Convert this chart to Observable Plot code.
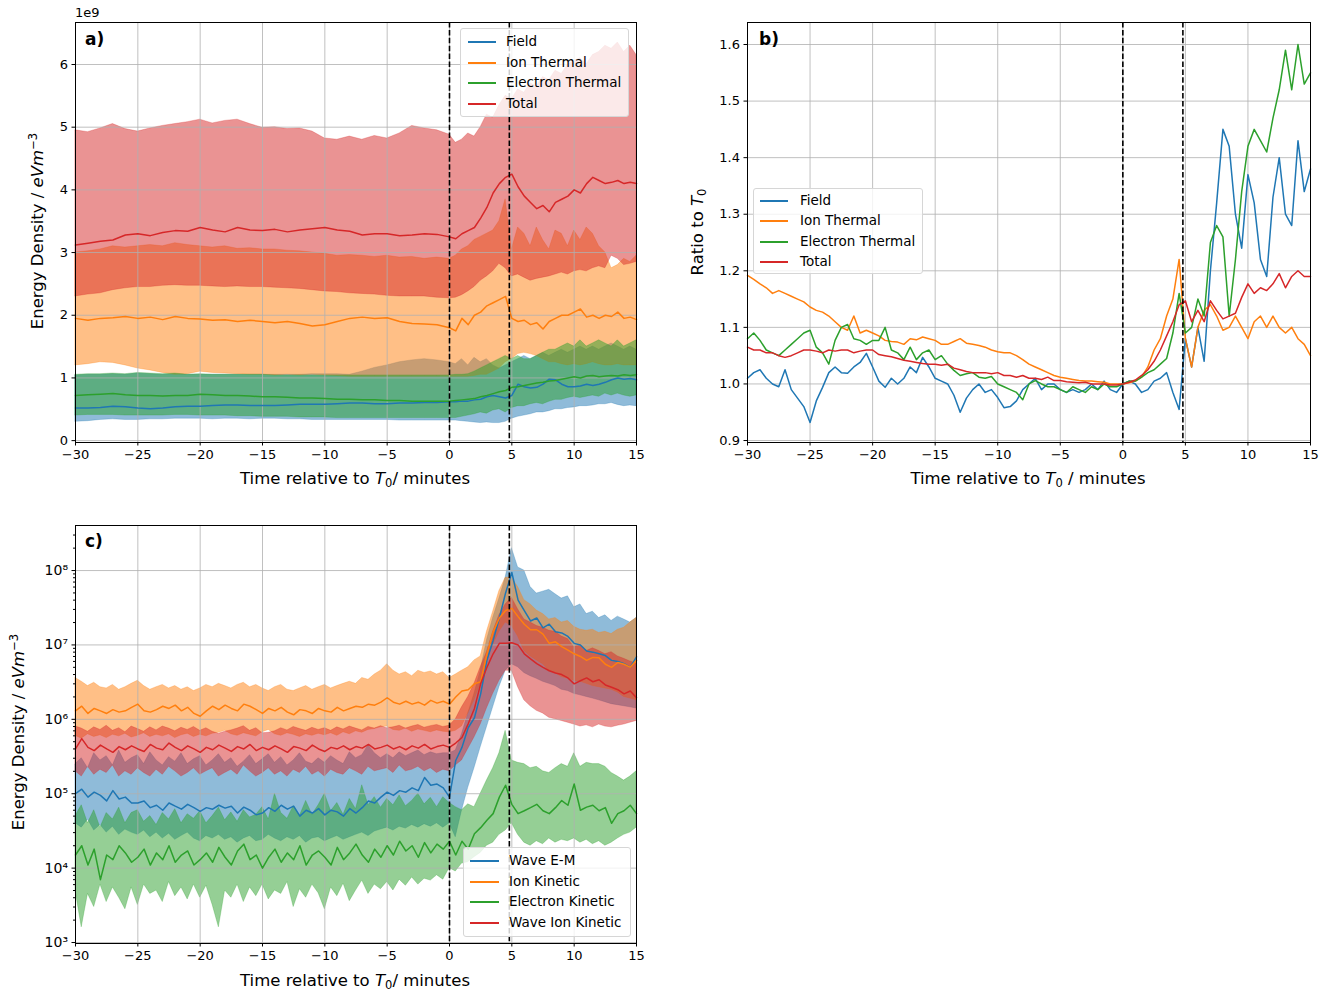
<!DOCTYPE html>
<html><head><meta charset="utf-8">
<script src="https://cdn.jsdelivr.net/npm/d3@7"></script>
<script src="https://cdn.jsdelivr.net/npm/@observablehq/plot@0.6"></script>
<style>
body{margin:0;background:#fff;font-family:"DejaVu Sans",sans-serif;color:#000;}
#wrap{position:relative;width:1327px;height:995px;overflow:hidden;background:#fff;}
#wrap svg{position:absolute;overflow:visible;}
.lbl{position:absolute;font-size:16.5px;white-space:nowrap;transform:translate(-50%,-50%);line-height:1;}
.rot{transform:translate(-50%,-50%) rotate(-90deg);}
.lbl sub{font-size:70%;vertical-align:-0.25em;}
.lbl sup{font-size:70%;vertical-align:0.55em;}
.plab{position:absolute;font-size:17px;font-weight:bold;line-height:1;}
.off{position:absolute;font-size:13px;line-height:1;}
.legend{position:absolute;background:rgba(255,255,255,0.8);border:1px solid #d6d6d6;border-radius:3px;box-sizing:border-box;}
.legend .ln{position:absolute;height:0;border-top:2px solid;}
.legend .tx{position:absolute;font-size:13.5px;line-height:1;transform:translateY(-50%);white-space:nowrap;}
</style>
</head><body><div id="wrap"></div>
<script>
// ---------------- Panel a data (energy density, units of 1e9 eV m^-3) ----------------
const tA = [-30,-29,-28,-27,-26,-25,-24,-23,-22,-21,-20,-19,-18,-17,-16,-15,-14,-13,-12,-11,-10,-9,-8,-7,-6,-5,-4,-3,-2,-1,0,
  0.5,1,1.5,2,2.5,3,3.5,4,4.5,5,5.5,6,6.5,7,7.5,8,8.5,9,9.5,10,10.5,11,11.5,12,12.5,13,13.5,14,14.5,15];
const fieldA = [0.52,0.52,0.53,0.55,0.54,0.52,0.51,0.52,0.54,0.55, 0.55,0.56,0.57,0.57,0.56,0.56,0.56,0.57,0.58,0.58, 0.58,0.59,0.6,0.6,0.59,0.59,0.6,0.6,0.61,0.61, 0.62,
  0.62,0.63,0.63,0.65,0.66,0.7,0.72,0.7,0.68,0.72, 0.9,0.86,0.84,0.85,0.9,0.98,0.97,0.9,0.86,0.86, 0.87,0.9,0.88,0.9,0.93,0.97,1.0,0.98,0.99,0.97];
const fieldLoA = [0.3,0.31,0.33,0.34,0.33,0.33,0.34,0.34,0.35,0.35, 0.35,0.34,0.35,0.35,0.34,0.35,0.35,0.34,0.34,0.33, 0.33,0.33,0.33,0.33,0.33,0.33,0.32,0.32,0.32,0.32, 0.32,
  0.32,0.31,0.3,0.29,0.28,0.29,0.28,0.28,0.3,0.35, 0.38,0.4,0.42,0.45,0.45,0.47,0.5,0.5,0.52,0.53, 0.55,0.55,0.56,0.58,0.58,0.6,0.57,0.55,0.56,0.55];
const fieldHiA = [1.04,1.05,1.05,1.06,1.05,1.07,1.06,1.05,1.06,1.05, 1.05,1.05,1.05,1.05,1.05,1.05,1.05,1.05,1.05,1.06, 1.06,1.06,1.05,1.1,1.16,1.2,1.25,1.28,1.3,1.28, 1.25,
  1.22,1.3,1.2,1.32,1.25,1.3,1.2,1.15,1.2,1.25, 1.3,1.35,1.3,1.35,1.4,1.35,1.4,1.45,1.4,1.45, 1.5,1.45,1.5,1.45,1.5,1.55,1.5,1.45,1.5,1.45];
const ionA = [1.95,1.92,1.95,1.96,1.98,1.95,1.97,1.93,1.98,1.95, 1.94,1.92,1.93,1.9,1.92,1.9,1.88,1.9,1.87,1.83, 1.85,1.9,1.95,1.97,1.95,1.96,1.9,1.87,1.86,1.85, 1.8,
  1.75,1.95,1.85,2.0,2.05,2.15,2.2,2.25,2.3,1.95, 1.9,1.92,1.85,1.88,1.78,1.9,1.95,2.0,2.0,2.05, 2.1,1.97,2.0,1.95,2.0,1.98,2.05,1.95,1.97,1.93];
const ionLoA = [1.2,1.22,1.25,1.24,1.2,1.15,1.12,1.08,1.05,1.06, 1.1,1.08,1.07,1.06,1.05,1.05,1.04,1.05,1.04,1.05, 1.04,1.03,1.02,1.02,1.02,1.02,1.02,1.02,1.02,1.02, 1.02,
  1.02,1.02,1.02,1.03,1.05,1.05,1.1,1.15,1.25,1.3, 1.38,1.4,1.38,1.35,1.3,1.25,1.25,1.22,1.2,1.22, 1.2,1.22,1.25,1.22,1.2,1.2,1.22,1.2,1.2,1.2];
const ionHiA = [3.0,3.02,3.05,3.1,3.08,3.1,3.12,3.1,3.15,3.12, 3.1,3.08,3.1,3.06,3.07,3.05,3.05,3.03,3.02,3.0, 2.98,2.95,2.96,2.95,2.93,2.95,2.92,2.93,2.9,2.92, 2.9,
  2.95,3.05,3.1,3.2,3.25,3.3,3.35,3.5,3.85,3.05, 3.4,3.3,3.1,3.4,3.2,3.05,3.35,3.3,3.1,3.35, 3.2,3.4,3.3,3.1,3.0,2.75,2.8,2.9,2.85,2.95];
const elecA = [0.72,0.73,0.74,0.75,0.73,0.72,0.72,0.71,0.72,0.72, 0.74,0.73,0.72,0.72,0.71,0.7,0.7,0.69,0.68,0.68, 0.67,0.66,0.66,0.65,0.65,0.64,0.64,0.63,0.63,0.63, 0.63,
  0.64,0.65,0.66,0.67,0.7,0.72,0.75,0.78,0.8,0.85, 0.86,0.88,0.9,0.92,0.93,0.95,0.96,0.98,1.0,1.02, 1.0,1.03,1.04,1.02,1.03,1.04,1.03,1.05,1.04,1.05];
const elecLoA = [0.4,0.41,0.41,0.41,0.4,0.4,0.4,0.4,0.41,0.41, 0.4,0.4,0.4,0.39,0.39,0.38,0.38,0.38,0.37,0.37, 0.37,0.36,0.36,0.36,0.36,0.36,0.36,0.36,0.36,0.36, 0.36,
  0.36,0.38,0.4,0.42,0.45,0.43,0.48,0.5,0.45,0.52, 0.55,0.55,0.58,0.6,0.58,0.62,0.65,0.65,0.68,0.7, 0.68,0.7,0.72,0.7,0.75,0.72,0.75,0.72,0.7,0.72];
const elecHiA = [1.05,1.06,1.06,1.07,1.06,1.08,1.07,1.06,1.07,1.05, 1.06,1.05,1.05,1.05,1.05,1.05,1.04,1.04,1.04,1.04, 1.04,1.04,1.04,1.04,1.04,1.04,1.04,1.04,1.04,1.04, 1.04,
  1.05,1.05,1.06,1.1,1.15,1.2,1.25,1.3,1.35,1.3, 1.35,1.3,1.3,1.35,1.4,1.45,1.45,1.5,1.55,1.5, 1.6,1.5,1.55,1.6,1.55,1.5,1.6,1.5,1.55,1.6];
const totalA = [3.12,3.15,3.18,3.2,3.28,3.3,3.27,3.32,3.35,3.34, 3.4,3.36,3.33,3.4,3.36,3.35,3.37,3.33,3.36,3.38, 3.4,3.36,3.34,3.28,3.3,3.3,3.27,3.28,3.3,3.29, 3.25,
  3.22,3.3,3.35,3.4,3.55,3.72,3.95,4.1,4.2,4.25, 4.05,3.9,3.8,3.7,3.75,3.65,3.8,3.85,3.9,4.0, 3.95,4.1,4.2,4.15,4.1,4.12,4.15,4.1,4.12,4.1];
const totalLoA = [2.3,2.33,2.35,2.4,2.43,2.45,2.45,2.47,2.48,2.47, 2.47,2.46,2.45,2.46,2.45,2.45,2.44,2.43,2.42,2.4, 2.38,2.37,2.35,2.34,2.33,2.31,2.3,2.3,2.3,2.28, 2.27,
  2.28,2.32,2.38,2.45,2.55,2.62,2.7,2.82,2.75,2.62, 2.65,2.6,2.55,2.58,2.6,2.62,2.65,2.68,2.65,2.7, 2.72,2.7,2.75,2.78,2.75,2.95,2.9,2.8,2.82,2.85];
const totalHiA = [4.95,4.92,4.98,5.05,4.97,4.93,4.98,5.02,5.05,5.08, 5.12,5.06,5.1,5.12,5.05,4.99,5.0,4.97,4.98,4.93, 4.82,4.8,4.85,4.8,4.86,4.82,4.9,5.02,4.98,4.95, 4.88,
  4.75,4.8,4.9,4.85,5.0,5.2,5.15,5.35,5.5,5.45, 5.6,5.55,5.7,5.65,5.8,5.75,5.9,5.85,6.0,6.05, 6.1,6.0,6.15,6.2,6.3,6.25,6.35,6.2,6.3,6.15];

// ---------------- Shared time grid for panels b and c (minutes) ----------------
const tB = [-30,-29.5,-29,-28.5,-28,-27.5,-27,-26.5,-26,-25.5,
  -25,-24.5,-24,-23.5,-23,-22.5,-22,-21.5,-21,-20.5,
  -20,-19.5,-19,-18.5,-18,-17.5,-17,-16.5,-16,-15.5,
  -15,-14.5,-14,-13.5,-13,-12.5,-12,-11.5,-11,-10.5,
  -10,-9.5,-9,-8.5,-8,-7.5,-7,-6.5,-6,-5.5,
  -5,-4.5,-4,-3.5,-3,-2.5,-2,-1.5,-1,-0.5,
  0,0.5,1,1.5,2,2.5,3,3.5,4,4.5,
  5,5.5,6,6.5,7,7.5,8,8.5,9,9.5,
  10,10.5,11,11.5,12,12.5,13,13.5,14,14.5,15];

// ---------------- Panel b data (ratio to T0) ----------------
const fieldRatio = [1.01,1.02,1.025,1.01,1.0,0.995,1.025,0.99,0.975,0.96,
  0.932,0.97,0.994,1.02,1.03,1.02,1.019,1.03,1.038,1.054,
  1.03,1.005,0.994,1.01,1.0,1.01,1.03,1.02,1.047,1.03,
  1.01,1.005,1.0,0.98,0.95,0.975,0.99,1.0,0.985,0.99,
  0.976,0.958,0.96,0.97,0.99,1.0,1.01,0.99,1.0,1.0,
  0.99,0.985,0.99,0.985,0.99,1.0,0.99,1.005,0.99,0.985,
  1.0,1.005,1.0,0.985,0.99,1.005,1.01,1.02,0.985,0.955,
  1.08,1.03,1.1,1.04,1.2,1.32,1.45,1.42,1.3,1.24,
  1.37,1.32,1.22,1.19,1.33,1.4,1.3,1.28,1.43,1.34,1.38];
const ionRatio = [1.192,1.185,1.177,1.17,1.16,1.165,1.16,1.155,1.15,1.145,
  1.136,1.13,1.127,1.12,1.11,1.1,1.095,1.12,1.09,1.095,
  1.09,1.085,1.077,1.075,1.074,1.07,1.08,1.078,1.083,1.08,
  1.077,1.07,1.07,1.075,1.08,1.072,1.07,1.068,1.065,1.06,
  1.057,1.055,1.055,1.05,1.043,1.035,1.03,1.025,1.02,1.015,
  1.012,1.01,1.008,1.006,1.005,1.005,1.004,1.003,1.0,1.0,
  1.0,1.002,1.005,1.012,1.03,1.06,1.08,1.12,1.15,1.22,
  1.08,1.03,1.1,1.13,1.14,1.12,1.095,1.1,1.12,1.1,
  1.08,1.11,1.12,1.1,1.12,1.1,1.09,1.1,1.08,1.07,1.05];
const elecRatio = [1.08,1.09,1.077,1.06,1.055,1.05,1.06,1.07,1.08,1.09,
  1.095,1.065,1.055,1.035,1.077,1.1,1.105,1.08,1.077,1.07,
  1.077,1.077,1.1,1.06,1.055,1.043,1.065,1.043,1.055,1.06,
  1.043,1.05,1.035,1.024,1.015,1.018,1.02,1.012,1.01,1.013,
  1.0,0.995,0.99,0.985,0.972,1.0,1.006,1.0,0.995,0.995,
  0.99,0.985,0.995,0.99,0.985,0.995,0.99,1.0,0.995,0.995,
  1.0,1.005,1.005,1.012,1.02,1.025,1.035,1.045,1.09,1.16,
  1.09,1.1,1.15,1.12,1.25,1.28,1.26,1.12,1.22,1.34,
  1.42,1.45,1.43,1.41,1.47,1.52,1.59,1.52,1.6,1.53,1.55];
const totalRatio = [1.065,1.06,1.06,1.055,1.055,1.05,1.047,1.05,1.055,1.06,
  1.06,1.058,1.055,1.06,1.058,1.06,1.06,1.055,1.058,1.06,
  1.06,1.052,1.05,1.048,1.045,1.042,1.04,1.038,1.036,1.035,
  1.035,1.033,1.035,1.028,1.025,1.022,1.02,1.02,1.02,1.018,
  1.02,1.015,1.015,1.012,1.015,1.01,1.01,1.008,1.012,1.006,
  1.006,1.004,1.003,1.002,1.003,1.0,1.0,1.0,0.998,0.998,
  1.0,1.003,1.007,1.015,1.025,1.04,1.06,1.085,1.11,1.14,
  1.147,1.11,1.13,1.11,1.147,1.13,1.115,1.12,1.125,1.153,
  1.177,1.16,1.17,1.165,1.177,1.195,1.17,1.19,1.2,1.19,1.19];

// ---------------- Panel c data (energy density, eV m^-3) ----------------
const waveEM = [1e5,1.15e5,9e4,1.05e5,9.5e4,8e4,1.1e5,8.5e4,9e4,7.5e4,
  7.5e4,8e4,6.5e4,7e4,6e4,7.5e4,6.8e4,6.2e4,7.2e4,6.5e4,
  5.8e4,6.5e4,6.2e4,7e4,6.4e4,6.8e4,5.5e4,6.6e4,6e4,5.2e4,
  5.5e4,6.5e4,5.8e4,7e4,6.2e4,6.8e4,5e4,6e4,5.5e4,6.3e4,
  5.2e4,6e4,5.7e4,5e4,6.3e4,5.5e4,6.5e4,8e4,7.5e4,9e4,
  1.05e5,9.5e4,1.1e5,1.05e5,1.2e5,1.1e5,1.65e5,1.3e5,1.35e5,1.2e5,
  9e4,2.8e5,4.2e5,7.7e5,1.05e6,2.2e6,6.2e6,1.15e7,2.3e7,5e7,
  9.4e7,4e7,2.9e7,2.1e7,2.3e7,1.7e7,1.9e7,1.5e7,1.45e7,1.3e7,
  1.05e7,1e7,8.3e6,8e6,7.6e6,7.2e6,6.2e6,6e6,5.6e6,5e6,6.9e6];
const waveEMLo = [4e4,3.5e4,4.5e4,3.2e4,3.8e4,3e4,3.6e4,2.8e4,3.3e4,3e4,
  2.8e4,3.2e4,2.6e4,3e4,2.5e4,2.9e4,2.4e4,2.7e4,3e4,2.5e4,
  2.3e4,2.7e4,2.5e4,2.8e4,2.4e4,2.6e4,2.2e4,2.5e4,2.7e4,2.3e4,
  2.4e4,2.8e4,2.5e4,2.3e4,2.6e4,2.4e4,2.7e4,2.2e4,2.5e4,2.6e4,
  2.3e4,2.5e4,2.7e4,2.4e4,2.6e4,2.8e4,3e4,2.7e4,3.1e4,3.3e4,
  3.5e4,3.2e4,3.6e4,3.4e4,3.8e4,3.5e4,3.9e4,3.6e4,4e4,3.5e4,
  4e4,2.6e4,5.9e4,1.2e5,2.2e5,4.2e5,7.8e5,1.45e6,2.7e6,4.5e6,
  5.5e6,5e6,4.2e6,3.8e6,3.5e6,3.2e6,3e6,2.8e6,2.5e6,2.4e6,
  2.2e6,2.1e6,2e6,1.9e6,1.8e6,1.7e6,1.6e6,1.55e6,1.5e6,1.45e6,1.4e6];
const waveEMHi = [2.5e5,3e5,2.2e5,3.5e5,2.8e5,3.2e5,2.4e5,3.8e5,2.6e5,3e5,
  3.3e5,2.5e5,3.6e5,2.8e5,2.4e5,3.1e5,2.7e5,3.5e5,2.5e5,2.9e5,
  3.2e5,2.4e5,2.8e5,3.4e5,2.6e5,3e5,2.3e5,2.7e5,3.3e5,2.5e5,
  2.9e5,3.4e5,2.6e5,3.1e5,2.4e5,2.8e5,3.5e5,2.7e5,2.5e5,3e5,
  2.6e5,3.2e5,2.8e5,2.5e5,3.6e5,3e5,3.3e5,4.5e5,3.5e5,3e5,
  3.4e5,3e5,3.6e5,3.2e5,3.5e5,3.8e5,3.3e5,3.6e5,3.4e5,3.5e5,
  3.5e5,3.8e5,6.3e5,1.2e6,2.2e6,4.5e6,1.15e7,2.3e7,4.2e7,8e7,
  2e8,1.1e8,1e8,6e7,4.9e7,5.2e7,5.5e7,4.8e7,4.2e7,4.5e7,
  3.2e7,3.5e7,2.6e7,2.8e7,2.3e7,2.5e7,2.1e7,2.4e7,2.2e7,2e7,2.3e7];
const ionKin = [1.3e6,1.5e6,1.2e6,1.4e6,1.3e6,1.2e6,1.35e6,1.25e6,1.3e6,1.45e6,
  1.6e6,1.3e6,1.25e6,1.35e6,1.5e6,1.4e6,1.55e6,1.3e6,1.45e6,1.2e6,
  1.1e6,1.3e6,1.5e6,1.35e6,1.55e6,1.4e6,1.3e6,1.6e6,1.5e6,1.35e6,
  1.2e6,1.4e6,1.3e6,1.45e6,1.25e6,1.15e6,1.35e6,1.3e6,1.2e6,1.4e6,
  1.3e6,1.25e6,1.45e6,1.3e6,1.4e6,1.5e6,1.45e6,1.6e6,1.55e6,1.7e6,
  1.95e6,1.7e6,1.6e6,1.75e6,1.6e6,1.7e6,1.55e6,1.8e6,1.65e6,1.75e6,
  1.6e6,2e6,2.4e6,2.5e6,3e6,3.2e6,7.5e6,1.5e7,2.3e7,2.9e7,
  3.1e7,2.4e7,1.9e7,1.6e7,1.6e7,1.4e7,1.05e7,1.1e7,9.5e6,8.5e6,
  7.6e6,7e6,6.2e6,6.8e6,6.7e6,5.5e6,5e6,5.8e6,5.5e6,5e6,6.2e6];
const ionKinLo = [6e5,5.5e5,6.3e5,5.8e5,6.1e5,5.6e5,6.2e5,5.9e5,6.4e5,5.7e5,
  6e5,6.5e5,5.8e5,6.2e5,5.9e5,6.3e5,5.6e5,6.1e5,6.4e5,5.8e5,
  6.2e5,5.9e5,6.4e5,6.6e5,7e5,6.3e5,6e5,6.5e5,6.2e5,5.9e5,
  6.7e5,7.2e5,6.3e5,6e5,6.5e5,6.2e5,5.8e5,6.3e5,6e5,6.4e5,
  6.1e5,6.5e5,6e5,6.7e5,6.3e5,6.9e5,6.6e5,7.2e5,7.4e5,7.8e5,
  8e5,7.2e5,7e5,7.5e5,6.8e5,7.3e5,7e5,6.7e5,7.1e5,6.8e5,
  6.7e5,7e5,8e5,1.2e6,1.8e6,3e6,6e6,1e7,1.5e7,2e7,
  1.8e7,1.3e7,8.3e6,7e6,6.2e6,5.5e6,4.5e6,4.2e6,3.7e6,3.5e6,
  3.3e6,3.2e6,3e6,2.8e6,2.7e6,2.6e6,2.5e6,2.3e6,2e6,1.9e6,1.8e6];
const ionKinHi = [3.6e6,3.2e6,2.8e6,3.1e6,2.7e6,2.6e6,2.9e6,2.5e6,2.7e6,3e6,
  3.3e6,2.8e6,2.5e6,2.7e6,2.9e6,2.6e6,2.8e6,2.5e6,2.7e6,2.4e6,
  2.6e6,2.9e6,2.7e6,3e6,2.8e6,2.6e6,2.9e6,3.1e6,2.7e6,2.9e6,
  2.6e6,2.4e6,2.7e6,2.9e6,2.5e6,2.4e6,2.6e6,2.8e6,2.5e6,2.7e6,
  2.9e6,2.6e6,2.8e6,3e6,3.2e6,3e6,3.6e6,3.4e6,4e6,4.5e6,
  5.5e6,4.5e6,4e6,4.3e6,3.8e6,4.5e6,4.2e6,4.4e6,4e6,4.3e6,
  3.6e6,4e6,4.5e6,5e6,6.2e6,7e6,1.5e7,2.8e7,5.3e7,8e7,
  8e7,6e7,4e7,3.5e7,2.9e7,2.6e7,2.2e7,2.3e7,2e7,2.1e7,
  1.75e7,1.6e7,1.55e7,1.6e7,1.45e7,1.5e7,1.4e7,1.6e7,1.7e7,2e7,2.3e7];
const elecKin = [1.5e4,2e4,1.1e4,1.8e4,7e3,1.5e4,1.3e4,2e4,1.6e4,1.2e4,
  1.4e4,1.8e4,1.1e4,1.6e4,1.3e4,2e4,1.2e4,1.5e4,1.7e4,1.1e4,
  1.3e4,1.6e4,1.2e4,1.9e4,1.4e4,1.1e4,1.7e4,2.1e4,1.3e4,1.5e4,
  1e4,1.4e4,1.8e4,1.2e4,1.6e4,1.3e4,2e4,1.1e4,1.5e4,1.7e4,
  1.4e4,1.1e4,1.9e4,1.3e4,1.6e4,2.1e4,1.5e4,1.2e4,1.8e4,1.4e4,
  2e4,1.5e4,2.3e4,1.7e4,2e4,1.4e4,2.2e4,1.6e4,2.1e4,1.8e4,
  2.3e4,1.5e4,2.3e4,1.8e4,2.9e4,3.5e4,4.4e4,5.4e4,9e4,1.3e5,
  7.2e4,5.4e4,5.9e4,6.5e4,7.2e4,5.9e4,5.4e4,6.5e4,8.1e4,7e4,
  1.35e5,6e4,6.6e4,7e4,5.9e4,6.5e4,4e4,5.4e4,5.9e4,7e4,5.4e4];
const elecKinLo = [5e3,1.6e3,4.5e3,3e3,6e3,3.5e3,5.5e3,4e3,2.8e3,5.5e3,
  3.2e3,6e3,4.5e3,5e3,3.5e3,6.5e3,4.2e3,5.5e3,3.8e3,6e3,
  4e3,5.8e3,3.2e3,1.6e3,5e3,4e3,6e3,3.5e3,5.5e3,4.2e3,
  6e3,3.8e3,5e3,4.5e3,6.5e3,3e3,5.2e3,4e3,6e3,4.6e3,
  2.8e3,5.5e3,4.2e3,6.2e3,3.6e3,5e3,6.8e3,4.5e3,6e3,5.2e3,
  6.5e3,5e3,7e3,5.8e3,7.5e3,6e3,7.2e3,6.8e3,8e3,7e3,
  1e4,9e3,1.15e4,1.2e4,1.4e4,1.6e4,2e4,2.2e4,2.8e4,3.2e4,
  4e4,2.8e4,2.2e4,2e4,2.3e4,2.1e4,2.5e4,2.2e4,2.4e4,2.3e4,
  2.5e4,2.2e4,2.4e4,2.1e4,2.3e4,2e4,2.2e4,2.5e4,2.8e4,3e4,3.5e4];
const elecKinHi = [5e4,7e4,4e4,6e4,3.5e4,5.5e4,4.5e4,6.5e4,4e4,5.5e4,
  6e4,4.2e4,5e4,3.8e4,5.5e4,4.5e4,6.2e4,4e4,5.3e4,4.6e4,
  5.8e4,4e4,5e4,6.5e4,4.4e4,5.6e4,4.2e4,6e4,4.8e4,5.2e4,
  6.6e4,4.5e4,1e5,5.5e4,4.6e4,6.8e4,5e4,8e4,5.2e4,7e4,
  1e5,5.8e4,7.5e4,5.2e4,8.5e4,6.2e4,1.3e5,7e4,9e4,6.5e4,
  8.5e4,7e4,9.5e4,6.8e4,8e4,1e5,7.2e4,8.8e4,6.6e4,9e4,
  7.5e4,6.6e4,6e4,7.2e4,6.6e4,1e5,1.5e5,2.2e5,3.5e5,7e5,
  2.8e5,2.6e5,2.5e5,2.2e5,2.3e5,2e5,1.9e5,2.2e5,2.5e5,2.3e5,
  3.5e5,2.3e5,2.6e5,2.5e5,2.5e5,2.3e5,1.9e5,1.7e5,1.5e5,1.7e5,2e5];
const waveIonKin = [4e5,5.5e5,4.2e5,3.8e5,4.5e5,4e5,3.6e5,4.3e5,3.9e5,4.4e5,
  4e5,3.7e5,4.6e5,4.1e5,3.9e5,4.8e5,4.2e5,3.8e5,4.4e5,4e5,
  3.6e5,4.2e5,3.9e5,4.5e5,4.1e5,3.7e5,4.3e5,4e5,4.6e5,3.8e5,
  4.2e5,3.9e5,4.4e5,4e5,3.6e5,4.3e5,4.1e5,3.8e5,4.5e5,4e5,
  3.7e5,4.2e5,4e5,4.4e5,3.9e5,4.3e5,4.1e5,4.6e5,4e5,4.2e5,
  4.5e5,4e5,4.3e5,3.9e5,4.4e5,4.1e5,4.6e5,4e5,4.3e5,4.5e5,
  4.2e5,4.8e5,5.7e5,8.7e5,1.4e6,3e6,5e6,7.6e6,1.05e7,1.05e7,
  1.07e7,1e7,7.6e6,6.5e6,5.6e6,5e6,4.5e6,4.2e6,4e6,3.6e6,
  3e6,3.3e6,3.6e6,3.2e6,3.4e6,2.9e6,2.7e6,2.5e6,2.2e6,2.4e6,1.95e6];
const waveIonKinLo = [2e5,1.7e5,2.3e5,1.8e5,2.1e5,1.9e5,2.4e5,1.7e5,2e5,1.8e5,
  2.2e5,1.9e5,1.7e5,2.1e5,1.8e5,2.3e5,2e5,1.7e5,1.9e5,2.2e5,
  1.8e5,2e5,2.2e5,1.7e5,1.9e5,2.1e5,1.8e5,2.4e5,2e5,1.7e5,
  1.9e5,2.2e5,1.8e5,2e5,1.7e5,2.1e5,1.9e5,2.3e5,1.8e5,2e5,
  1.7e5,2.1e5,1.9e5,1.8e5,2.2e5,2e5,1.8e5,2.3e5,2e5,2.1e5,
  2.2e5,1.9e5,2.4e5,2e5,2.1e5,2.3e5,2e5,2.2e5,1.9e5,2.1e5,
  2e5,2.4e5,2.8e5,4e5,5.7e5,8.5e5,1.4e6,2.2e6,3.3e6,4.5e6,
  4.5e6,2.7e6,1.8e6,1.5e6,1.3e6,1.2e6,1.05e6,1e6,9.5e5,9e5,
  8.5e5,8e5,8.3e5,7.8e5,8.5e5,8e5,7.8e5,8.2e5,8.5e5,9e5,9.5e5];
const waveIonKinHi = [8e5,7.5e5,6.8e5,7.8e5,7.2e5,8.2e5,7e5,7.6e5,6.7e5,8e5,
  7.4e5,6.8e5,7.8e5,7.1e5,8e5,7.5e5,6.9e5,7.7e5,7.2e5,7.9e5,
  7e5,7.6e5,6.8e5,6.4e5,6.8e5,7.1e5,7.5e5,8.1e5,7e5,7.6e5,
  6.5e5,6.6e5,6.9e5,7.6e5,7.1e5,7.9e5,7.4e5,7e5,7.7e5,7.2e5,
  7.6e5,7e5,7.8e5,7.3e5,8e5,7.5e5,7.1e5,7.9e5,7.5e5,8.1e5,
  7.6e5,7.8e5,8.2e5,7.5e5,8e5,8.4e5,7.7e5,8.1e5,8.4e5,7.9e5,
  8.2e5,1e6,1.45e6,2e6,3e6,5e6,8e6,1.5e7,2.5e7,3.5e7,
  4.3e7,3e7,2.2e7,2e7,1.8e7,1.7e7,1.55e7,1.5e7,1.3e7,1.2e7,
  9.3e6,1e7,8.3e6,9e6,8.3e6,7.5e6,8e6,7e6,6.5e6,6e6,5.6e6];

// ---------------- Axis ticks, markers and labels ----------------
const xTicks = [-30,-25,-20,-15,-10,-5,0,5,10,15];
const yTicksA = [0,1,2,3,4,5,6];
const yTicksB = [0.9,1.0,1.1,1.2,1.3,1.4,1.5,1.6];
const yTicksC = [1e3,1e4,1e5,1e6,1e7,1e8];
const eventLines = [0, 4.8];
const namesA = ["Field","Ion Thermal","Electron Thermal","Total"];
const namesC = ["Wave E-M","Ion Kinetic","Electron Kinetic","Wave Ion Kinetic"];
const colors = ["#1f77b4","#ff7f0e","#2ca02c","#d62728"];

// ---------------- Helpers ----------------
const minus = v => (v < 0 ? "\u2212" + String(-v) : String(v));
const sup = {"0":"\u2070","1":"\u00b9","2":"\u00b2","3":"\u00b3","4":"\u2074","5":"\u2075","6":"\u2076","7":"\u2077","8":"\u2078","9":"\u2079"};
const logFmt = v => "10" + String(Math.round(Math.log10(v))).split("").map(c => sup[c]).join("");
const minorC = [];
for (let e = 2; e <= 8; e++) for (let m = 2; m <= 9; m++) { const v = m * 10 ** e; if (v > 970 && v < 4e8) minorC.push(v); }

const gridStyle = {stroke: "#b0b0b0", strokeOpacity: 1, strokeWidth: 0.8};
const dashStyle = {stroke: "#000", strokeWidth: 1.6, strokeDasharray: "5.5,2.4"};
const plotStyle = {fontFamily: "DejaVu Sans", fontSize: "13px", color: "#000", background: "transparent", overflow: "visible"};
const tickFont = 13;

function band(t, lo, hi, color) {
  const rows = t.map((x, i) => ({x, lo: lo[i], hi: hi[i]}));
  return Plot.areaY(rows, {x: "x", y1: "lo", y2: "hi", fill: color, fillOpacity: 0.5, stroke: color, strokeOpacity: 0.35, strokeWidth: 0.8});
}
function line(t, v, color) {
  const rows = t.map((x, i) => ({x, v: v[i]}));
  return Plot.line(rows, {x: "x", y: "v", stroke: color, strokeWidth: 1.5});
}
const axX = () => Plot.axisX({ticks: xTicks, tickSize: 3.5, tickPadding: 4, tickFormat: minus, label: null, fontSize: tickFont});

const wrap = document.getElementById("wrap");
function place(svg, left, top) { svg.style.left = left + "px"; svg.style.top = top + "px"; wrap.appendChild(svg); }

// ---------------- Panel a ----------------
const bandsA = [[fieldLoA, fieldHiA], [ionLoA, ionHiA], [elecLoA, elecHiA], [totalLoA, totalHiA]];
const midsA = [fieldA, ionA, elecA, totalA];
const plotA = Plot.plot({
  width: 660, height: 500, marginLeft: 75, marginRight: 24, marginTop: 22, marginBottom: 58,
  x: {domain: [-30, 15]}, y: {domain: [-0.03, 6.67]},
  style: plotStyle,
  marks: [
    ...bandsA.map((b, i) => band(tA, b[0], b[1], colors[i])),
    Plot.ruleX(xTicks, gridStyle),
    Plot.ruleY(yTicksA, gridStyle),
    ...midsA.map((m, i) => line(tA, m, colors[i])),
    Plot.ruleX(eventLines, dashStyle),
    Plot.frame({stroke: "#000", strokeWidth: 1}),
    axX(),
    Plot.axisY({ticks: yTicksA, tickSize: 3.5, tickPadding: 4, tickFormat: d => String(d), label: null, fontSize: tickFont})
  ]
});
place(plotA, 0, 0);

// ---------------- Panel b ----------------
const ratios = [fieldRatio, ionRatio, elecRatio, totalRatio];
const plotB = Plot.plot({
  width: 647, height: 500, marginLeft: 67, marginRight: 17, marginTop: 22, marginBottom: 58,
  x: {domain: [-30, 15]}, y: {domain: [0.8965, 1.6389]},
  style: plotStyle,
  marks: [
    Plot.ruleX(xTicks, gridStyle),
    Plot.ruleY(yTicksB, gridStyle),
    ...ratios.map((r, i) => line(tB, r, colors[i])),
    Plot.ruleX(eventLines, dashStyle),
    Plot.frame({stroke: "#000", strokeWidth: 1}),
    axX(),
    Plot.axisY({ticks: yTicksB, tickSize: 3.5, tickPadding: 4, tickFormat: d => d.toFixed(1), label: null, fontSize: tickFont})
  ]
});
place(plotB, 680, 0);

// ---------------- Panel c ----------------
const bandsC = [[waveEMLo, waveEMHi], [ionKinLo, ionKinHi], [elecKinLo, elecKinHi], [waveIonKinLo, waveIonKinHi]];
const midsC = [waveEM, ionKin, elecKin, waveIonKin];
const plotC = Plot.plot({
  width: 660, height: 495, marginLeft: 75, marginRight: 24, marginTop: 25, marginBottom: 52,
  x: {domain: [-30, 15]}, y: {type: "log", domain: [970, 4.03e8]},
  style: plotStyle,
  marks: [
    ...bandsC.map((b, i) => band(tB, b[0], b[1], colors[i])),
    Plot.ruleX(xTicks, gridStyle),
    Plot.ruleY(yTicksC, gridStyle),
    ...midsC.map((m, i) => line(tB, m, colors[i])),
    Plot.ruleX(eventLines, dashStyle),
    Plot.frame({stroke: "#000", strokeWidth: 1}),
    axX(),
    Plot.axisY({ticks: minorC, tickSize: 2, tickFormat: () => "", label: null}),
    Plot.axisY({ticks: yTicksC, tickSize: 3.5, tickPadding: 4, tickFormat: logFmt, label: null, fontSize: 14})
  ]
});
place(plotC, 0, 500);

// ---------------- HTML text: labels, legends ----------------
function addHTML(cls, html, left, top) {
  const d = document.createElement("div");
  d.className = cls; d.innerHTML = html;
  d.style.left = left + "px"; d.style.top = top + "px";
  wrap.appendChild(d); return d;
}
const xLab1 = "Time relative to <i>T</i><sub>0</sub>/ minutes";
const xLab2 = "Time relative to <i>T</i><sub>0</sub> / minutes";
const yLabE = "Energy Density / <i>eVm</i><sup>\u22123</sup>";
const yLabR = "Ratio to <i>T</i><sub>0</sub>";
addHTML("lbl", xLab1, 355, 480);
addHTML("lbl", xLab2, 1028, 480);
addHTML("lbl", xLab1, 355, 982);
addHTML("lbl rot", yLabE, 37, 231);
addHTML("lbl rot", yLabR, 699, 232);
addHTML("lbl rot", yLabE, 18, 732);
addHTML("off", "1e9", 75, 6);
addHTML("plab", "a)", 85, 31);
addHTML("plab", "b)", 759, 31);
addHTML("plab", "c)", 85, 533);

function legend(names, box, rowY, lineX, lineW, textX) {
  const d = document.createElement("div");
  d.className = "legend";
  Object.assign(d.style, {left: box[0] + "px", top: box[1] + "px", width: box[2] + "px", height: box[3] + "px"});
  names.forEach((n, i) => {
    const l = document.createElement("div"); l.className = "ln";
    Object.assign(l.style, {left: lineX + "px", width: lineW + "px", top: (rowY[i] - 1) + "px", borderTopColor: colors[i]});
    const t = document.createElement("div"); t.className = "tx"; t.textContent = n;
    Object.assign(t.style, {left: textX + "px", top: rowY[i] + "px"});
    d.appendChild(l); d.appendChild(t);
  });
  wrap.appendChild(d);
}
legend(namesA, [460, 28, 169, 89], [13, 33.5, 54, 74.5], 7, 28, 45);
legend(namesA, [753, 188, 170, 86], [11.5, 32, 52.5, 73], 6, 28, 46);
legend(namesC, [463, 847, 168, 90], [13, 33.5, 54, 74.5], 6, 29, 45);
</script>
</body></html>
